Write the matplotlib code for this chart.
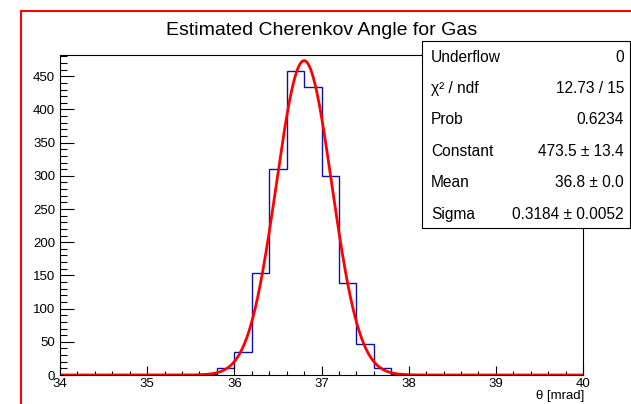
import numpy as np
import matplotlib.pyplot as plt
from matplotlib.patches import Rectangle
from matplotlib.ticker import MultipleLocator

plt.rcParams['font.family'] = ['Liberation Sans', 'DejaVu Sans']

# histogram: 30 bins of 0.2 mrad from 34 to 40
edges = np.round(np.arange(34.0, 40.0001, 0.2), 2)
counts = [0, 0, 0, 0, 0, 0, 0, 0, 2, 11, 34, 153, 310, 458, 434,
          300, 138, 46, 10, 1, 0, 0, 0, 0, 0, 0, 0, 0, 0, 0]

# gaussian fit parameters
fit_const = 473.5
fit_mean = 36.8
fit_sigma = 0.3184

stat_names = ["Underflow", "χ² / ndf", "Prob", "Constant", "Mean", "Sigma"]
stat_values = ["0", "12.73 / 15", "0.6234", "473.5 ± 13.4", "36.8 ± 0.0", "0.3184 ± 0.0052"]

W, H = 631, 404
fig = plt.figure(figsize=(W / 100, H / 100), dpi=100)

# red canvas frame
fig.patches.append(Rectangle((21 / W, -0.05), 1.1, (H - 11) / H + 0.05,
                             transform=fig.transFigure, fill=False,
                             edgecolor='red', linewidth=1.5))

ax = fig.add_axes([60 / W, (H - 375) / H, 523 / W, 320 / H])
ax.stairs(counts, edges, color='#1010a0', linewidth=1.0)

xs = np.linspace(34, 40, 1200)
ax.plot(xs, fit_const * np.exp(-0.5 * ((xs - fit_mean) / fit_sigma) ** 2),
        color='red', linewidth=2.0)

ax.set_xlim(34, 40)
ax.set_ylim(0, 482)
ax.xaxis.set_major_locator(MultipleLocator(1))
ax.xaxis.set_minor_locator(MultipleLocator(0.2))
ax.yaxis.set_major_locator(MultipleLocator(50))
ax.yaxis.set_minor_locator(MultipleLocator(10))
ax.tick_params(axis='x', which='major', direction='in', length=6.5, width=0.8,
               labelsize=9.5, pad=2, top=False)
ax.tick_params(axis='x', which='minor', direction='in', length=3, width=0.8, top=False)
ax.tick_params(axis='y', which='major', direction='in', length=10, width=0.8,
               labelsize=9.5, pad=3.5, right=False)
ax.tick_params(axis='y', which='minor', direction='in', length=5, width=0.8, right=False)
for s in ax.spines.values():
    s.set_linewidth(0.8)

fig.text(584 / W, 1 - 399 / H, "θ [mrad]", ha='right', va='baseline', fontsize=9.5)
fig.text(322 / W, 1 - 35 / H, "Estimated Cherenkov Angle for Gas",
         ha='center', va='baseline', fontsize=14)

# stats box
fig.patches.append(Rectangle((422 / W, 1 - 228 / H), 208 / W, 187 / H,
                             transform=fig.transFigure, facecolor='white',
                             edgecolor='black', linewidth=0.8, zorder=5))
row_y = [61.7, 93, 124.5, 156, 187, 218.5]
for name, val, yy in zip(stat_names, stat_values, row_y):
    fig.text(431 / W, 1 - yy / H, name, ha='left', va='baseline', fontsize=11.2, zorder=6)
    fig.text(624 / W, 1 - yy / H, val, ha='right', va='baseline', fontsize=11.2, zorder=6)

fig.savefig("out.png", dpi=100)
